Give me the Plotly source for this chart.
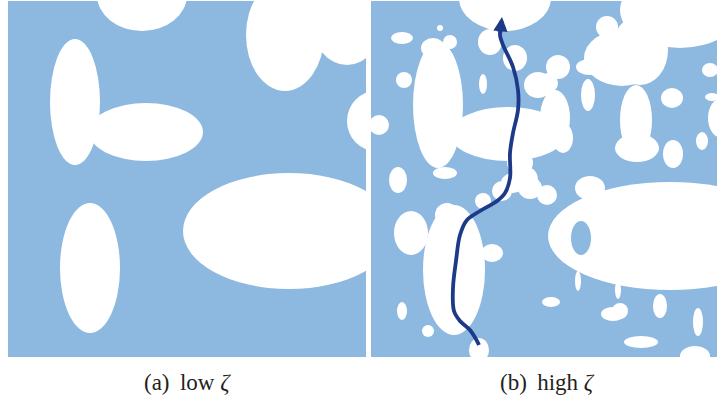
import plotly.graph_objects as go

# ---------------- data (pixel-space coordinates of the two panels) ----------------
# Panel (a): low zeta — white pore ellipses (centre x, centre y, radius x, radius y)
a_cx = [142, 285, 347, 376, 75, 146, 90, 289]
a_cy = [-5, 35, 22, 121, 102, 132, 268, 231]
a_rx = [45, 39, 35, 29, 25, 57, 30, 106]
a_ry = [36, 56, 43, 30, 63, 29, 65, 58]

# Panel (b): high zeta — white pore ellipses
b_cx = [505, 402, 440, 490, 515, 538, 404, 483, 379, 438, 450, 433, 508, 445, 398,
        558, 590, 588, 548, 555, 520, 563, 607, 680, 640, 636, 637, 672, 702, 722,
        712, 710, 673, 670, 547, 590, 578, 618, 551, 613, 620, 660, 698, 641, 695,
        454, 411, 492, 402, 428, 479, 483, 502, 513, 530, 447, 622, 527]
b_cy = [-2, 38, 28, 42, 58, 85, 80, 84, 125, 105, 42, 48, 134, 173, 180,
        67, 67, 95, 83, 118, 163, 138, 27, 10, 50, 120, 148, 98, 141, 118,
        97, 70, 154, 236, 195, 188, 281, 290, 302, 314, 311, 306, 322, 342, 356,
        270, 233, 253, 311, 331, 350, 201, 191, 183, 188, 215, 58, 180]
b_rx = [46, 11, 3, 12, 12, 14, 8, 4, 10, 25, 7, 12, 58, 12, 9,
        12, 14, 7, 10, 15, 13, 10, 11, 60, 28, 16, 22, 11, 6, 14,
        7, 8, 10, 122, 10, 15, 3, 3, 9, 12, 8, 7, 5, 17, 15,
        31, 17, 11, 5, 6, 10, 8, 10, 12, 12, 12, 38, 11]
b_ry = [33, 6, 3, 13, 13, 13, 8, 10, 10, 63, 7, 10, 27, 6, 13,
        12, 8, 16, 10, 28, 12, 15, 11, 38, 35, 35, 14, 10, 9, 20,
        4, 7, 14, 54, 10, 12, 10, 9, 5, 7, 8, 12, 14, 6, 10,
        65, 22, 9, 9, 6, 12, 8, 10, 10, 11, 12, 28, 13]

# Panel (b): blue hole inside the large pore
hole_cx = [581]
hole_cy = [238]
hole_rx = [10]
hole_ry = [17]

# Percolation path in panel (b); last point is the arrow tip
path_x = [479, 477, 470, 460, 454, 453, 456, 460, 467, 480, 497, 505, 510, 510,
          513, 518, 518, 513, 503, 500, 501, 502]
path_y = [345, 341, 330, 321, 311, 288, 261, 235, 220, 211, 201, 193, 178, 153,
          133, 110, 90, 67, 45, 35, 28, 17]

captions = ["(a)\u2009 low <i>\u03b6</i>", "(b)\u2009 high <i>\u03b6</i>"]

# ---------------- styling / layout ----------------
W, H = 718, 398
BLUE = "#8DB8E0"
PATH = "#1C3A88"
panel_a = (8, 366, 1, 357)
panel_b = (371, 717, 1, 357)

fig = go.Figure()


def ell_shapes(cx, cy, rx, ry, xref, yref, color):
    out = []
    for x, y, a, b in zip(cx, cy, rx, ry):
        out.append(dict(type="circle", xref=xref, yref=yref,
                        x0=x - a, x1=x + a, y0=y - b, y1=y + b,
                        fillcolor=color, line=dict(width=0), layer="below"))
    return out


shapes = []
shapes += ell_shapes(a_cx, a_cy, a_rx, a_ry, "x", "y", "white")
shapes += ell_shapes(b_cx, b_cy, b_rx, b_ry, "x2", "y2", "white")
shapes += ell_shapes(hole_cx, hole_cy, hole_rx, hole_ry, "x2", "y2", BLUE)

# invisible trace so panel (a) axes render
fig.add_trace(go.Scatter(x=[panel_a[0]], y=[panel_a[2]], mode="markers",
                         marker=dict(size=0, opacity=0), xaxis="x", yaxis="y",
                         hoverinfo="skip", showlegend=False))
# path body (all but the arrow tip)
fig.add_trace(go.Scatter(x=path_x[:-1], y=path_y[:-1], mode="lines",
                         line=dict(color=PATH, width=3.8, shape="spline", smoothing=1),
                         xaxis="x2", yaxis="y2", hoverinfo="skip", showlegend=False))

ax_common = dict(visible=False, showgrid=False, zeroline=False, fixedrange=True)
cap_font = dict(family="Liberation Serif", size=23, color="#231F20")
fig.update_layout(
    width=W, height=H, margin=dict(l=0, r=0, t=0, b=0),
    paper_bgcolor="white", plot_bgcolor=BLUE,
    xaxis=dict(domain=[panel_a[0] / W, panel_a[1] / W], range=[panel_a[0], panel_a[1]],
               anchor="y", **ax_common),
    yaxis=dict(domain=[1 - panel_a[3] / H, 1 - panel_a[2] / H], range=[panel_a[3], panel_a[2]],
               anchor="x", **ax_common),
    xaxis2=dict(domain=[panel_b[0] / W, panel_b[1] / W], range=[panel_b[0], panel_b[1]],
                anchor="y2", **ax_common),
    yaxis2=dict(domain=[1 - panel_b[3] / H, 1 - panel_b[2] / H], range=[panel_b[3], panel_b[2]],
                anchor="x2", **ax_common),
    shapes=shapes,
    annotations=[
        dict(text=captions[0], xref="paper", yref="paper", x=187 / W, y=1 - 382 / H,
             showarrow=False, xanchor="center", yanchor="middle", font=cap_font),
        dict(text=captions[1], xref="paper", yref="paper", x=547 / W, y=1 - 382 / H,
             showarrow=False, xanchor="center", yanchor="middle", font=cap_font),
        dict(text="", xref="x2", yref="y2", axref="x2", ayref="y2",
             x=path_x[-1], y=path_y[-1], ax=path_x[-3], ay=path_y[-3],
             showarrow=True, arrowhead=2, arrowsize=0.75, arrowwidth=3.8,
             arrowcolor=PATH, standoff=0),
    ],
)

fig.write_html("out.html", config={"displayModeBar": False})
